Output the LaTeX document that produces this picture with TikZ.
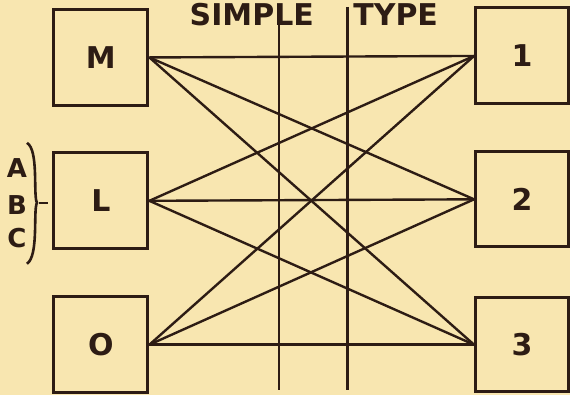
\documentclass[tikz,border=0pt]{standalone}
\usepackage{fontspec}
\setsansfont{DejaVu Sans}
\definecolor{paper}{RGB}{248,230,176}
\definecolor{ink}{RGB}{45,28,20}
\begin{document}
\begin{tikzpicture}[x=1pt, y=-1pt, ink,
  box/.style={draw=ink, rectangle, line width=3pt, minimum width=94pt,
    minimum height=96pt, inner sep=0pt, text=ink,
    font=\sffamily\bfseries\fontsize{30}{30}\selectfont},
  tie/.style={draw=ink, line width=2.4pt},
  title/.style={text=ink, inner sep=0pt, font=\sffamily\bfseries\fontsize{30}{30}\selectfont},
  letter/.style={text=ink, inner sep=0pt, font=\sffamily\bfseries\fontsize{26}{26}\selectfont}]
\fill[paper] (0,0) rectangle (570,395);
% left column
\node[box] (m) at (101,57.5) {M};
\node[box] (l) at (101,201) {L};
\node[box] (o) at (101,345) {O};
% right column
\node[box, minimum width=93pt] (one) at (522.5,56) {1};
\node[box, minimum width=93pt, minimum height=95pt] (two) at (522.5,199.5) {2};
\node[box, minimum width=93pt, minimum height=94pt] (three) at (522.5,345) {3};
% heading
\node[title] (simple) at (252,15) {SIMPLE};
\node[title] (type) at (396,15) {TYPE};
% A B C with brace
\node[letter] (a) at (17,168) {A};
\node[letter] (b) at (17,205) {B};
\node[letter] (c) at (17,238) {C};
\coordinate (bt) at (27,143);
\coordinate (bm) at (37,203);
\coordinate (bb) at (27,264);
\coordinate (bd) at (48,203);
\draw[tie, line width=2.6pt] (bt) .. controls (39,150) and (33,196) .. (bm)
  .. controls (33,210) and (39,256) .. (bb);
\draw[tie] (bm) ++(2,0) -- (bd);
% vertical rules
\coordinate (v1t) at (279,12);
\coordinate (v1b) at (279,390);
\coordinate (v2t) at (348,7);
\coordinate (v2b) at (348,390);
\draw[tie] (v1t) -- (v1b);
\draw[tie] (v2t) -- (v2b);
% every left box to every right box
\foreach \s in {m,l,o}
  \foreach \t in {one,two,three}
    \draw[tie] (\s.east) -- (\t.west);
\end{tikzpicture}
\end{document}
